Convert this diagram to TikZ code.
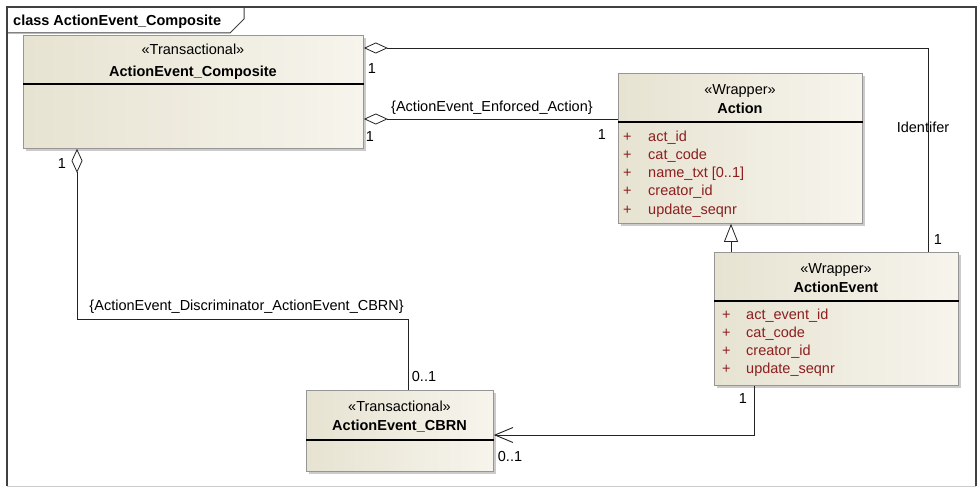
\documentclass[tikz,border=0pt]{standalone}
\usepackage{fontspec}
\setmainfont{Liberation Sans}
\usetikzlibrary{arrows.meta,shadows,calc}
\definecolor{attr}{RGB}{140,30,30}
\definecolor{boxL}{RGB}{231,227,210}
\definecolor{boxR}{RGB}{246,244,236}
\definecolor{edge}{RGB}{35,35,35}
\definecolor{boxline}{RGB}{150,150,150}
\begin{document}
\begin{tikzpicture}[x=1pt,y=-1pt,
  font=\fontsize{14.5}{16}\selectfont,
  classbox/.style={draw=boxline, line width=0.8pt, left color=boxL, right color=boxR,
    drop shadow={shadow xshift=3pt,shadow yshift=-3pt,fill=black!40},
    anchor=north west, inner sep=0pt},
  divider/.style={draw=black, line width=1.1pt},
  txt/.style={inner sep=0pt, anchor=base},
  cname/.style={txt, font=\fontsize{14.5}{16}\selectfont\bfseries},
  attrtxt/.style={inner sep=0pt, anchor=base west, text=attr},
  lbl/.style={inner sep=0pt},
  assoc/.style={draw=edge, line width=0.9pt},
  aggd/.tip={Diamond[length=24pt,width=11pt,fill=white,line width=0.8pt]},
  gent/.tip={Triangle[length=18pt,width=14pt,fill=white,line width=0.8pt]},
  navt/.tip={Straight Barb[length=18pt,width=15pt,line width=0.9pt]}
]
\useasboundingbox (0,0) rectangle (979,487);
\fill[white] (0,0) rectangle (979,487);

% frame
\draw[draw=black!75, line width=1.2pt] (7,486) -- (7,7) -- (976,7) -- (976,486);
\draw[draw=black!20, line width=1pt] (7,486) -- (976,486);
\draw[draw=black!75, line width=1pt] (7,33) -- (230,33) -- (244,19) -- (244,7);
\node[inner sep=0pt, anchor=base west, font=\fontsize{14.5}{16}\selectfont\bfseries] (title) at (13,26) {class ActionEvent\_Composite};

% classes
\node[classbox, minimum width=340pt, minimum height=113pt] (comp) at (23,35) {};
\draw[divider] (comp.west |- 0,84) -- (comp.east |- 0,84);
\node[txt] (compS) at (193,55) {«Transactional»};
\node[cname] (compN) at (193,76) {ActionEvent\_Composite};

\node[classbox, minimum width=244pt, minimum height=150pt] (act) at (618,73) {};
\draw[divider] (act.west |- 0,122) -- (act.east |- 0,122);
\node[txt] (actS) at (740,94) {«Wrapper»};
\node[cname] (actN) at (740,113) {Action};
\foreach \t [count=\i from 0] in {act\_id,cat\_code,name\_txt [0..1],creator\_id,update\_seqnr}{
  \node[attrtxt] (actP\i) at (623,{141+18.3*\i}) {+};
  \node[attrtxt] (actA\i) at (648,{141+18.3*\i}) {\t};
}

\node[classbox, minimum width=244pt, minimum height=133pt] (ae) at (714,252) {};
\draw[divider] (ae.west |- 0,301) -- (ae.east |- 0,301);
\node[txt] (aeS) at (836,273) {«Wrapper»};
\node[cname] (aeN) at (836,292) {ActionEvent};
\foreach \t [count=\i from 0] in {act\_event\_id,cat\_code,creator\_id,update\_seqnr}{
  \node[attrtxt] (aeP\i) at (722,{319.5+18*\i}) {+};
  \node[attrtxt] (aeA\i) at (746,{319.5+18*\i}) {\t};
}

\node[classbox, minimum width=187pt, minimum height=81pt] (cbrn) at (306,390) {};
\draw[divider] (cbrn.west |- 0,440) -- (cbrn.east |- 0,440);
\node[txt] (cbrnS) at (399.5,411) {«Transactional»};
\node[cname] (cbrnN) at (399.5,430) {ActionEvent\_CBRN};

% connectors
\draw[assoc, aggd-] (comp.east |- 0,48) -| (ae.north -| 928,0);
\draw[assoc, aggd-] (comp.east |- 0,119) -- (act.west |- 0,119);
\draw[assoc, aggd-] (comp.south -| 77,0) -- (77,319) -| (cbrn.north -| 408,0);
\draw[assoc, -gent] (ae.north -| 731,0) -- (act.south -| 731,0);
\draw[assoc, -navt] (ae.south -| 754,0) |- (cbrn.east |- 0,435);

% labels
\node[lbl] (m1) at (372,69) {1};
\node[lbl] (m2) at (370,137) {1};
\node[lbl, anchor=west] (enf) at (391,108) {\{ActionEvent\_Enforced\_Action\}};
\node[lbl] (m3) at (602,135) {1};
\node[lbl] (ident) at (923,127) {Identifer};
\node[lbl] (m4) at (938,240) {1};
\node[lbl] (m5) at (62,164) {1};
\node[lbl, anchor=east] (disc) at (404,307) {\{ActionEvent\_Discriminator\_ActionEvent\_CBRN\}};
\node[lbl] (m6) at (424,377) {0..1};
\node[lbl] (m7) at (743,399) {1};
\node[lbl] (m8) at (510,457) {0..1};
\end{tikzpicture}
\end{document}
